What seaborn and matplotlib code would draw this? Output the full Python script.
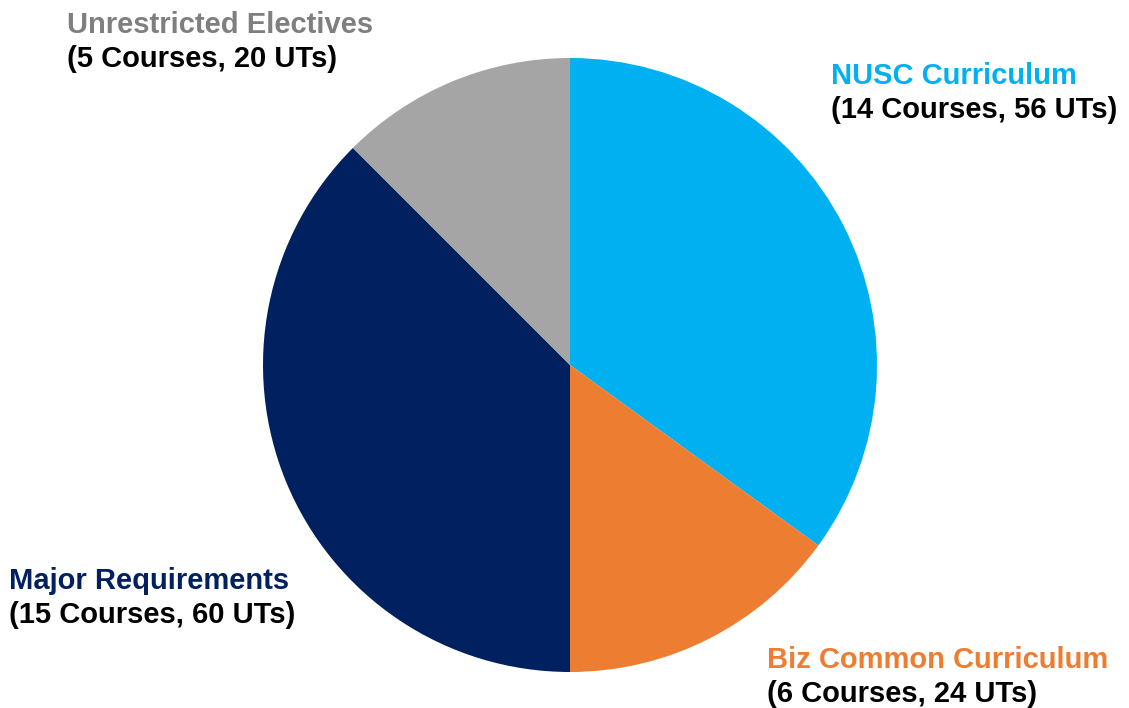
import matplotlib
matplotlib.use('Agg')
import matplotlib.pyplot as plt
import seaborn as sns

# curriculum breakdown
categories = ['NUSC Curriculum', 'Biz Common Curriculum', 'Major Requirements', 'Unrestricted Electives']
courses = [14, 6, 15, 5]
units = [56, 24, 60, 20]
slice_colors = ['#00B0F0', '#ED7D31', '#002060', '#A5A5A5']
label_colors = ['#00B0F0', '#ED7D31', '#002060', '#7F7F7F']

sns.set_theme(style='white')
plt.rcParams['font.family'] = ['Liberation Sans', 'DejaVu Sans']

W, H = 1129, 708
fig = plt.figure(figsize=(W / 100, H / 100), dpi=100)
ax = fig.add_axes([0, 0, 1, 1])

ax.pie(units, colors=slice_colors, startangle=90, counterclock=False,
       center=(570, H - 365), radius=307, frame=True,
       wedgeprops=dict(linewidth=0))
ax.set_xlim(0, W)
ax.set_ylim(0, H)
ax.set_aspect('equal')
ax.axis('off')

# label anchor (left x, baseline y of first line) in pixels from top-left
label_pos = [(831, 84), (767, 668), (9, 589), (67, 33)]
for cat, c, u, col, (x, y) in zip(categories, courses, units, label_colors, label_pos):
    ax.text(x, H - y, cat, color=col, fontsize=21, fontweight='bold',
            ha='left', va='baseline')
    ax.text(x, H - y - 34, f'({c} Courses, {u} UTs)', color='black', fontsize=21,
            fontweight='bold', ha='left', va='baseline')

fig.savefig('out.png', dpi=100)
